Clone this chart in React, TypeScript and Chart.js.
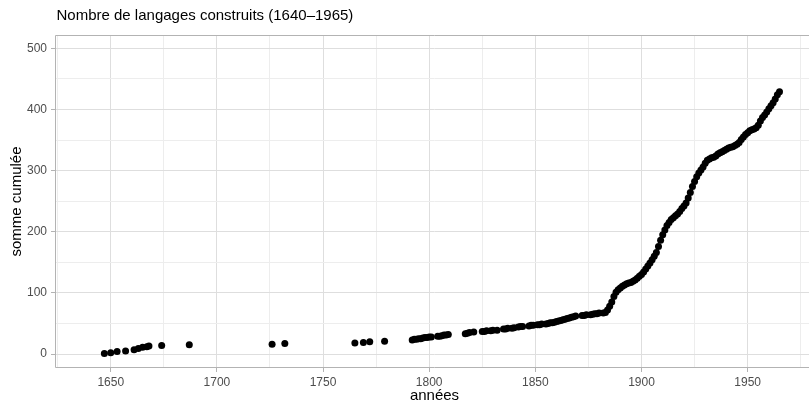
import React, { useEffect, useRef } from "react";
import { Chart, registerables } from "chart.js";

Chart.register(...registerables);

const TITLE = "Nombre de langages construits (1640\u20131965)";
const X_TITLE = "années";
const Y_TITLE = "somme cumulée";

const years: number[] = [
  1647, 1650, 1653, 1657, 1661, 1663, 1665, 1667, 1668, 1674, 1687, 1726, 1732, 1765, 1769, 1772, 1779,
  1792, 1793, 1794, 1795, 1796, 1797, 1798, 1799, 1800, 1801, 1804, 1805, 1806, 1807, 1808, 1809,
  1817, 1818, 1819, 1821, 1825, 1826, 1827, 1829, 1830, 1832, 1835, 1836, 1837, 1839, 1840, 1842,
  1843, 1844, 1847, 1848, 1849, 1851, 1852, 1853, 1855, 1856, 1857, 1858, 1859, 1860, 1861, 1862,
  1863, 1864, 1865, 1866, 1867, 1868, 1869, 1872, 1873, 1874, 1876, 1877, 1878, 1879, 1880,
  1882, 1883, 1884, 1885, 1886, 1887, 1888, 1889, 1890, 1891, 1892, 1893, 1894, 1895, 1896, 1897,
  1898, 1899, 1900, 1901, 1902, 1903, 1904, 1905, 1906, 1907, 1908, 1909, 1910, 1911, 1912, 1913,
  1914, 1915, 1916, 1917, 1918, 1919, 1920, 1921, 1922, 1923, 1924, 1925, 1926, 1927, 1928, 1929,
  1930, 1931, 1932, 1933, 1934, 1935, 1936, 1937, 1938, 1939, 1940, 1941, 1942, 1943, 1944, 1945,
  1946, 1947, 1948, 1949, 1950, 1951, 1952, 1953, 1954, 1955, 1956, 1957, 1958, 1959, 1960, 1961,
  1962, 1963, 1964, 1965,
];

const cumul: number[] = [
  1, 2, 4, 5, 7, 9, 11, 12, 13, 14, 15, 16, 17, 18, 19, 20, 21,
  23, 24, 24, 25, 25, 26, 27, 27, 28, 28, 29, 29, 30, 31, 31, 32,
  33, 34, 35, 36, 37, 37, 38, 38, 39, 39, 41, 41, 42, 42, 43, 44,
  45, 45, 46, 47, 47, 48, 48, 49, 49, 50, 51, 51, 52, 53, 54, 55,
  56, 57, 58, 59, 60, 61, 62, 63, 63, 64, 64, 65, 66, 66, 67,
  67, 68, 72, 78, 85, 94, 101, 105, 108, 111, 113, 115, 116, 117, 119, 121,
  124, 127, 130, 134, 139, 144, 149, 154, 160, 166, 176, 186, 195, 203, 210, 215,
  220, 223, 226, 229, 233, 238, 242, 247, 255, 264, 274, 282, 290, 296, 301, 306,
  312, 317, 319, 321, 322, 324, 327, 329, 331, 333, 335, 337, 338, 339, 341, 343,
  346, 351, 355, 359, 362, 365, 367, 368, 370, 374, 381, 387, 391, 396, 401, 406,
  411, 417, 424, 429,
];

const xTicks: number[] = [1625, 1650, 1675, 1700, 1725, 1750, 1775, 1800, 1825, 1850, 1875, 1900, 1925, 1950, 1975];
const yTicks: number[] = [0, 50, 100, 150, 200, 250, 300, 350, 400, 450, 500];

const FONT = "'Liberation Sans', Arial, Helvetica, sans-serif";

export default function App() {
  const ref = useRef<HTMLCanvasElement | null>(null);

  useEffect(() => {
    if (!ref.current) return;
    const textPlugin = {
      id: "texts",
      afterDatasetsDraw(chart: any) {
        const { ctx, chartArea } = chart;
        const l = Math.round(chartArea.left) + 0.5;
        const t = Math.round(chartArea.top) + 0.5;
        const b = Math.round(chartArea.bottom) - 0.5;
        const r = Math.round(chartArea.right) - 0.5;
        ctx.save();
        ctx.strokeStyle = "#B3B3B3";
        ctx.lineWidth = 1;
        ctx.beginPath();
        ctx.moveTo(r, t);
        ctx.lineTo(l, t);
        ctx.lineTo(l, b);
        ctx.lineTo(r, b);
        ctx.stroke();
        ctx.restore();
      },
      afterDraw(chart: any) {
        const { ctx, chartArea } = chart;
        ctx.save();
        ctx.fillStyle = "#000000";
        ctx.font = `15px ${FONT}`;
        ctx.textAlign = "left";
        ctx.textBaseline = "alphabetic";
        ctx.fillText(TITLE, chartArea.left + 1.5, 20);

        ctx.textAlign = "center";
        ctx.fillText(X_TITLE, (chartArea.left + chartArea.right) / 2, 400);

        ctx.translate(21, (chartArea.top + chartArea.bottom) / 2);
        ctx.rotate(-Math.PI / 2);
        ctx.fillText(Y_TITLE, 0, 0);
        ctx.restore();
      },
    };

    const chart = new Chart(ref.current, {
      type: "scatter",
      data: {
        datasets: [
          {
            data: years.map((y, i) => ({ x: y, y: cumul[i] })),
            backgroundColor: "#000000",
            borderWidth: 0,
            pointRadius: 3.5,
            pointHoverRadius: 3.5,
          },
        ],
      },
      options: {
        animation: false,
        responsive: false,
        devicePixelRatio: 1,
        layout: { autoPadding: false, padding: { top: 35, left: 0, right: 0, bottom: 0 } },
        plugins: { legend: { display: false }, tooltip: { enabled: false }, title: { display: false } },
        scales: {
          x: {
            type: "linear",
            min: 1623.75,
            max: 1981.25,
            afterBuildTicks: (s: any) => {
              s.ticks = xTicks.map((v) => ({ value: v }));
            },
            afterFit: (s: any) => {
              s.height = 37;
            },
            border: { display: false },
            grid: {
              color: (c: any) => (c.tick && c.tick.value % 50 === 0 ? "#DEDEDE" : "#EDEDED"),
              tickColor: (c: any) => (c.tick && c.tick.value % 50 === 0 ? "#B3B3B3" : "rgba(0,0,0,0)"),
              tickLength: 4,
              lineWidth: 1,
            },
            ticks: {
              autoSkip: false,
              maxRotation: 0,
              padding: 3,
              color: "#4D4D4D",
              font: { family: FONT, size: 12 },
              callback: (v: any) => (Number(v) % 50 === 0 ? String(v) : ""),
            },
          },
          y: {
            type: "linear",
            min: -22.9,
            max: 521.8,
            afterBuildTicks: (s: any) => {
              s.ticks = yTicks.map((v) => ({ value: v }));
            },
            afterFit: (s: any) => {
              s.width = 55;
            },
            border: { display: false },
            grid: {
              color: (c: any) => (c.tick && c.tick.value % 100 === 0 ? "#DEDEDE" : "#EDEDED"),
              tickColor: (c: any) => (c.tick && c.tick.value % 100 === 0 ? "#B3B3B3" : "rgba(0,0,0,0)"),
              tickLength: 4,
              lineWidth: 1,
            },
            ticks: {
              autoSkip: false,
              padding: 4,
              color: "#4D4D4D",
              font: { family: FONT, size: 12 },
              callback: (v: any) => (Number(v) % 100 === 0 ? String(v) : ""),
            },
          },
        },
      },
      plugins: [textPlugin],
    });
    return () => chart.destroy();
  }, []);

  return (
    <div style={{ position: "fixed", left: 0, top: 0, width: 809, height: 405, overflow: "hidden", background: "#fff" }}>
      <canvas ref={ref} width={814} height={405} style={{ width: 814, height: 405, display: "block" }} />
    </div>
  );
}
